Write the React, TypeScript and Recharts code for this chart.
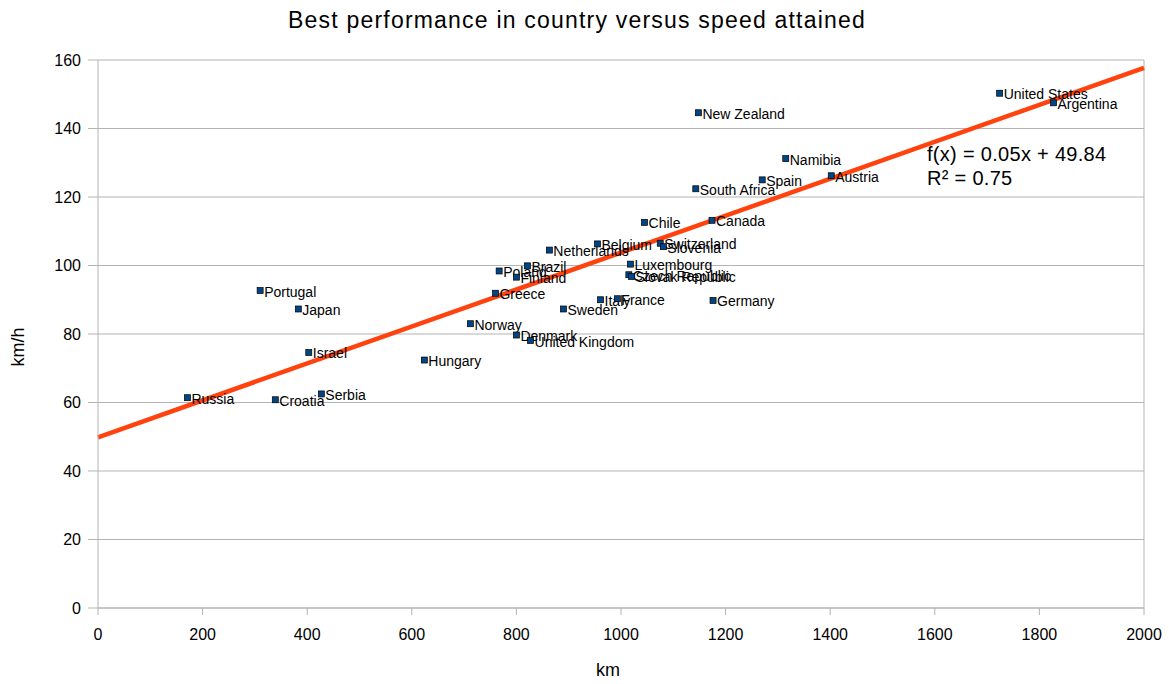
import { ScatterChart, Scatter, XAxis, YAxis, CartesianGrid, ReferenceLine } from 'recharts';

const countries = [
  'Russia', 'Croatia', 'Serbia', 'Israel', 'Portugal', 'Japan', 'Hungary', 'Norway',
  'Denmark', 'United Kingdom', 'Greece', 'Poland', 'Finland', 'Brazil', 'Netherlands',
  'Sweden', 'Belgium', 'Luxembourg', 'Czech Republic', 'Slovak Republic', 'Italy',
  'France', 'Germany', 'Switzerland', 'Slovenia', 'Chile', 'Canada', 'South Africa',
  'Spain', 'Austria', 'Namibia', 'New Zealand', 'United States', 'Argentina',
];
const distanceKm = [
  171, 339, 427, 403, 310, 383, 624, 712,
  800, 827, 760, 767, 800, 821, 863,
  890, 955, 1018, 1015, 1020, 961,
  993, 1176, 1075, 1081, 1045, 1174, 1143,
  1270, 1402, 1315, 1148, 1724, 1827,
];
const speedKmh = [
  61.4, 60.8, 62.5, 74.6, 92.7, 87.3, 72.4, 83.0,
  79.7, 78.1, 91.9, 98.4, 96.6, 99.9, 104.5,
  87.3, 106.3, 100.4, 97.3, 96.8, 90.0,
  90.3, 89.8, 106.5, 105.5, 112.6, 113.2, 122.4,
  125.0, 126.2, 131.2, 144.6, 150.3, 147.5,
];
// trend line end points
const trendStart = { x: 0, y: 49.84 };
const trendEnd = { x: 2000, y: 157.7 };

const xTicks = [0, 200, 400, 600, 800, 1000, 1200, 1400, 1600, 1800, 2000];
const yTicks = [0, 20, 40, 60, 80, 100, 120, 140, 160];

const data = countries.map((name, i) => ({ name, km: distanceKm[i], speed: speedKmh[i] }));

const font = '"Liberation Sans", Arial, sans-serif';
const grey = '#b3b3b3';

function Marker(props: any) {
  const { cx, cy, payload } = props;
  if (cx == null || cy == null) return null;
  return (
    <g>
      <rect x={cx - 3} y={cy - 3} width={6} height={6} fill="#004586" stroke="#000" strokeWidth={0.7} />
      <text x={cx + 4} y={cy + 1} dominantBaseline="central" fontSize={14} fontFamily={font} fill="#000">
        {payload.name}
      </text>
    </g>
  );
}

export default function App() {
  return (
    <div style={{ position: 'absolute', left: 0, top: 0, width: 1169, height: 684, background: '#fff', fontFamily: font }}>
      <div style={{ position: 'absolute', left: 0, width: 1154, top: 9, textAlign: 'center', fontSize: 23, lineHeight: '23px', letterSpacing: 1.2, color: '#000' }}>
        Best performance in country versus speed attained
      </div>
      <ScatterChart width={1169} height={684} margin={{ top: 60, right: 25, bottom: 46, left: 0 }}>
        <CartesianGrid vertical={false} stroke={grey} />
        <XAxis
          type="number"
          dataKey="km"
          domain={[0, 2000]}
          ticks={xTicks}
          height={30}
          stroke={grey}
          tickSize={7}
          tickMargin={14}
          tick={{ fill: '#000', fontSize: 16, fontFamily: font }}
        />
        <YAxis
          type="number"
          dataKey="speed"
          domain={[0, 160]}
          ticks={yTicks}
          width={98}
          stroke={grey}
          tickSize={10}
          tickMargin={7}
          tick={{ fill: '#000', fontSize: 16, fontFamily: font }}
        />
        <ReferenceLine x={2000} stroke={grey} />
        <Scatter data={data} shape={<Marker />} isAnimationActive={false} />
        <ReferenceLine segment={[trendStart, trendEnd]} stroke="#ff420e" strokeWidth={4.5} />
      </ScatterChart>
      <div style={{ position: 'absolute', left: 927, top: 144, fontSize: 20, lineHeight: '20px', letterSpacing: 0.3, whiteSpace: 'nowrap' }}>
        f(x) = 0.05x + 49.84
      </div>
      <div style={{ position: 'absolute', left: 927, top: 168, fontSize: 20, lineHeight: '20px', letterSpacing: 0.3, whiteSpace: 'nowrap' }}>
        R² = 0.75
      </div>
      <div style={{ position: 'absolute', left: -22, top: 337, width: 80, height: 20, lineHeight: '20px', textAlign: 'center', fontSize: 18, transform: 'rotate(-90deg)' }}>
        km/h
      </div>
      <div style={{ position: 'absolute', left: 568, top: 660, width: 80, lineHeight: '20px', textAlign: 'center', fontSize: 18 }}>
        km
      </div>
    </div>
  );
}
